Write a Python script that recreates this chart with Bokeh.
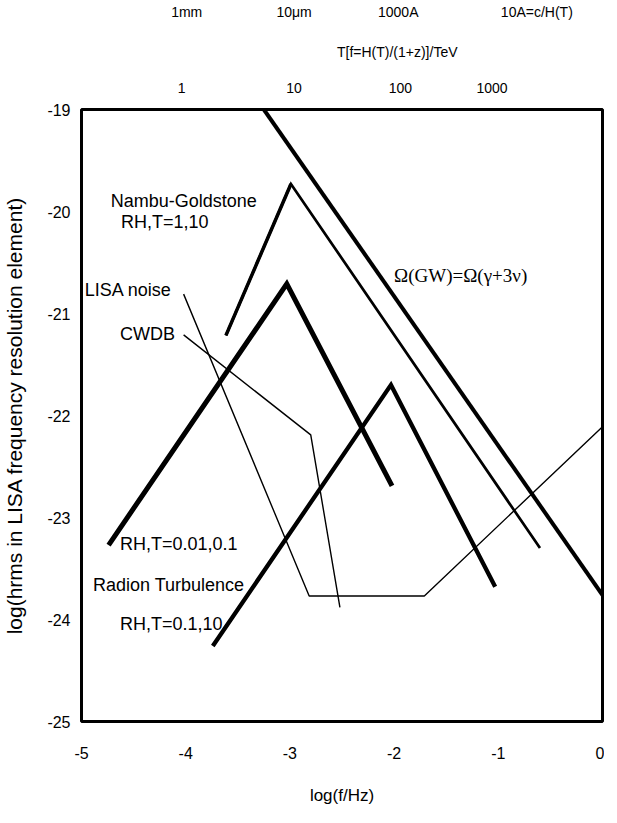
from bokeh.plotting import figure
from bokeh.models import LinearAxis, FixedTicker, Range1d
from bokeh.core.properties import value
from bokeh.embed import file_html
from bokeh.resources import INLINE

# ---- data (log f/Hz , log hrms) ----
omega_x = [-3.25, 0.0]
omega_y = [-19.0, -23.76]
ng_x = [-3.614, -2.99, -0.60]
ng_y = [-21.215, -19.73, -23.30]
rh1_x = [-4.74, -3.03, -2.02]
rh1_y = [-23.27, -20.71, -22.69]
rad_x = [-3.74, -2.03, -1.03]
rad_y = [-24.26, -21.70, -23.68]
lisa_x = [-4.02, -2.815, -1.71, 0.0]
lisa_y = [-20.81, -23.77, -23.77, -22.11]
cwdb_x = [-4.02, -2.80, -2.52]
cwdb_y = [-21.21, -22.19, -23.88]

x_ticks = [-5, -4, -3, -2, -1, 0]
x_tick_labels = ["-5", "-4", "-3", "-2", "-1", "0"]
y_ticks = [-19, -20, -21, -22, -23, -24, -25]
y_tick_labels = ["-19", "-20", "-21", "-22", "-23", "-24", "-25"]
t_pos = [-4.04, -2.96, -1.94, -1.06]
t_labels = ["1", "10", "100", "1000"]
len_pos = [-3.99, -2.96, -1.96, -0.63]
len_labels = ["1mm", "10\u03bcm", "1000A", "10A=c/H(T)"]
ttitle_pos = [-1.97]
ttitle_labels = ["T[f=H(T)/(1+z)]/TeV"]

labels_txt = ["Nambu-Goldstone", "RH,T=1,10", "LISA noise", "CWDB",
              "RH,T=0.01,0.1", "Radion Turbulence", "RH,T=0.1,10"]
labels_x = [-4.72, -4.62, -4.97, -4.63, -4.63, -4.89, -4.63]
labels_y = [-19.90, -20.10, -20.77, -21.20, -23.26, -23.66, -24.04]
omega_label = "\u03a9(GW)=\u03a9(\u03b3+3\u03bd)"
omega_lx, omega_ly = -2.0, -20.63

SANS = "Liberation Sans"

p = figure(width=604, height=807, x_range=Range1d(-5, 0), y_range=Range1d(-25, -19),
           output_backend="svg", toolbar_location=None,
           min_border_left=73, min_border_right=2, min_border_top=96, min_border_bottom=74)
p.grid.visible = False
p.outline_line_color = "black"
p.outline_line_width = 3
p.outline_line_alpha = 1.0
p.background_fill_color = "white"
p.border_fill_color = "white"

def style_axis(ax, size="16px"):
    ax.major_tick_line_color = None
    ax.minor_tick_line_color = None
    ax.axis_line_color = None
    ax.major_label_text_font = SANS
    ax.major_label_text_font_size = size
    ax.major_label_text_color = "black"

p.xaxis.ticker = FixedTicker(ticks=x_ticks)
p.yaxis.ticker = FixedTicker(ticks=y_ticks)
p.xaxis.major_label_overrides = {k: v for k, v in zip(x_ticks, x_tick_labels)}
p.yaxis.major_label_overrides = {k: v for k, v in zip(y_ticks, y_tick_labels)}
style_axis(p.xaxis[0])
style_axis(p.yaxis[0])
p.xaxis.major_label_standoff = 19
p.yaxis.major_label_standoff = 5
p.xaxis.axis_label = "log(f/Hz)"
p.yaxis.axis_label = "log(hrms in LISA frequency resolution element)"
for ax, fs, so in ((p.xaxis[0], "17px", 24), (p.yaxis[0], "21px", 18)):
    ax.axis_label_text_font = SANS
    ax.axis_label_text_font_size = fs
    ax.axis_label_text_font_style = "normal"
    ax.axis_label_text_color = "black"
    ax.axis_label_standoff = so

ax_t = LinearAxis(ticker=FixedTicker(ticks=t_pos),
                  major_label_overrides={k: v for k, v in zip(t_pos, t_labels)})
style_axis(ax_t, "14px")
ax_t.major_label_standoff = 11
ax_tt = LinearAxis(ticker=FixedTicker(ticks=ttitle_pos),
                   major_label_overrides={k: v for k, v in zip(ttitle_pos, ttitle_labels)})
style_axis(ax_tt, "14px")
ax_tt.major_label_standoff = 14
ax_len = LinearAxis(ticker=FixedTicker(ticks=len_pos),
                    major_label_overrides={k: v for k, v in zip(len_pos, len_labels)})
style_axis(ax_len, "14px")
ax_len.major_label_standoff = 15
p.add_layout(ax_t, "above")
p.add_layout(ax_tt, "above")
p.add_layout(ax_len, "above")

# ---- curves ----
p.line(omega_x, omega_y, line_color="black", line_width=4)
p.line(ng_x, ng_y, line_color="black", line_width=2.7, line_join="miter")
p.line(ng_x[:2], ng_y[:2], line_color="black", line_width=3.5)
p.line(rh1_x, rh1_y, line_color="black", line_width=5, line_join="miter")
p.line(rad_x, rad_y, line_color="black", line_width=4.3, line_join="miter")
p.line(lisa_x, lisa_y, line_color="black", line_width=1.4)
p.line(cwdb_x, cwdb_y, line_color="black", line_width=1.4)

p.text(x=labels_x, y=labels_y, text=labels_txt, text_font=value(SANS),
       text_font_size="18px", text_align="left", text_baseline="middle", text_color="black")
p.text(x=[omega_lx], y=[omega_ly], text=[omega_label], text_font=value("Liberation Serif"),
       text_font_size="19px", text_align="left", text_baseline="middle", text_color="black")

open("out.html", "w").write(file_html(p, INLINE))
